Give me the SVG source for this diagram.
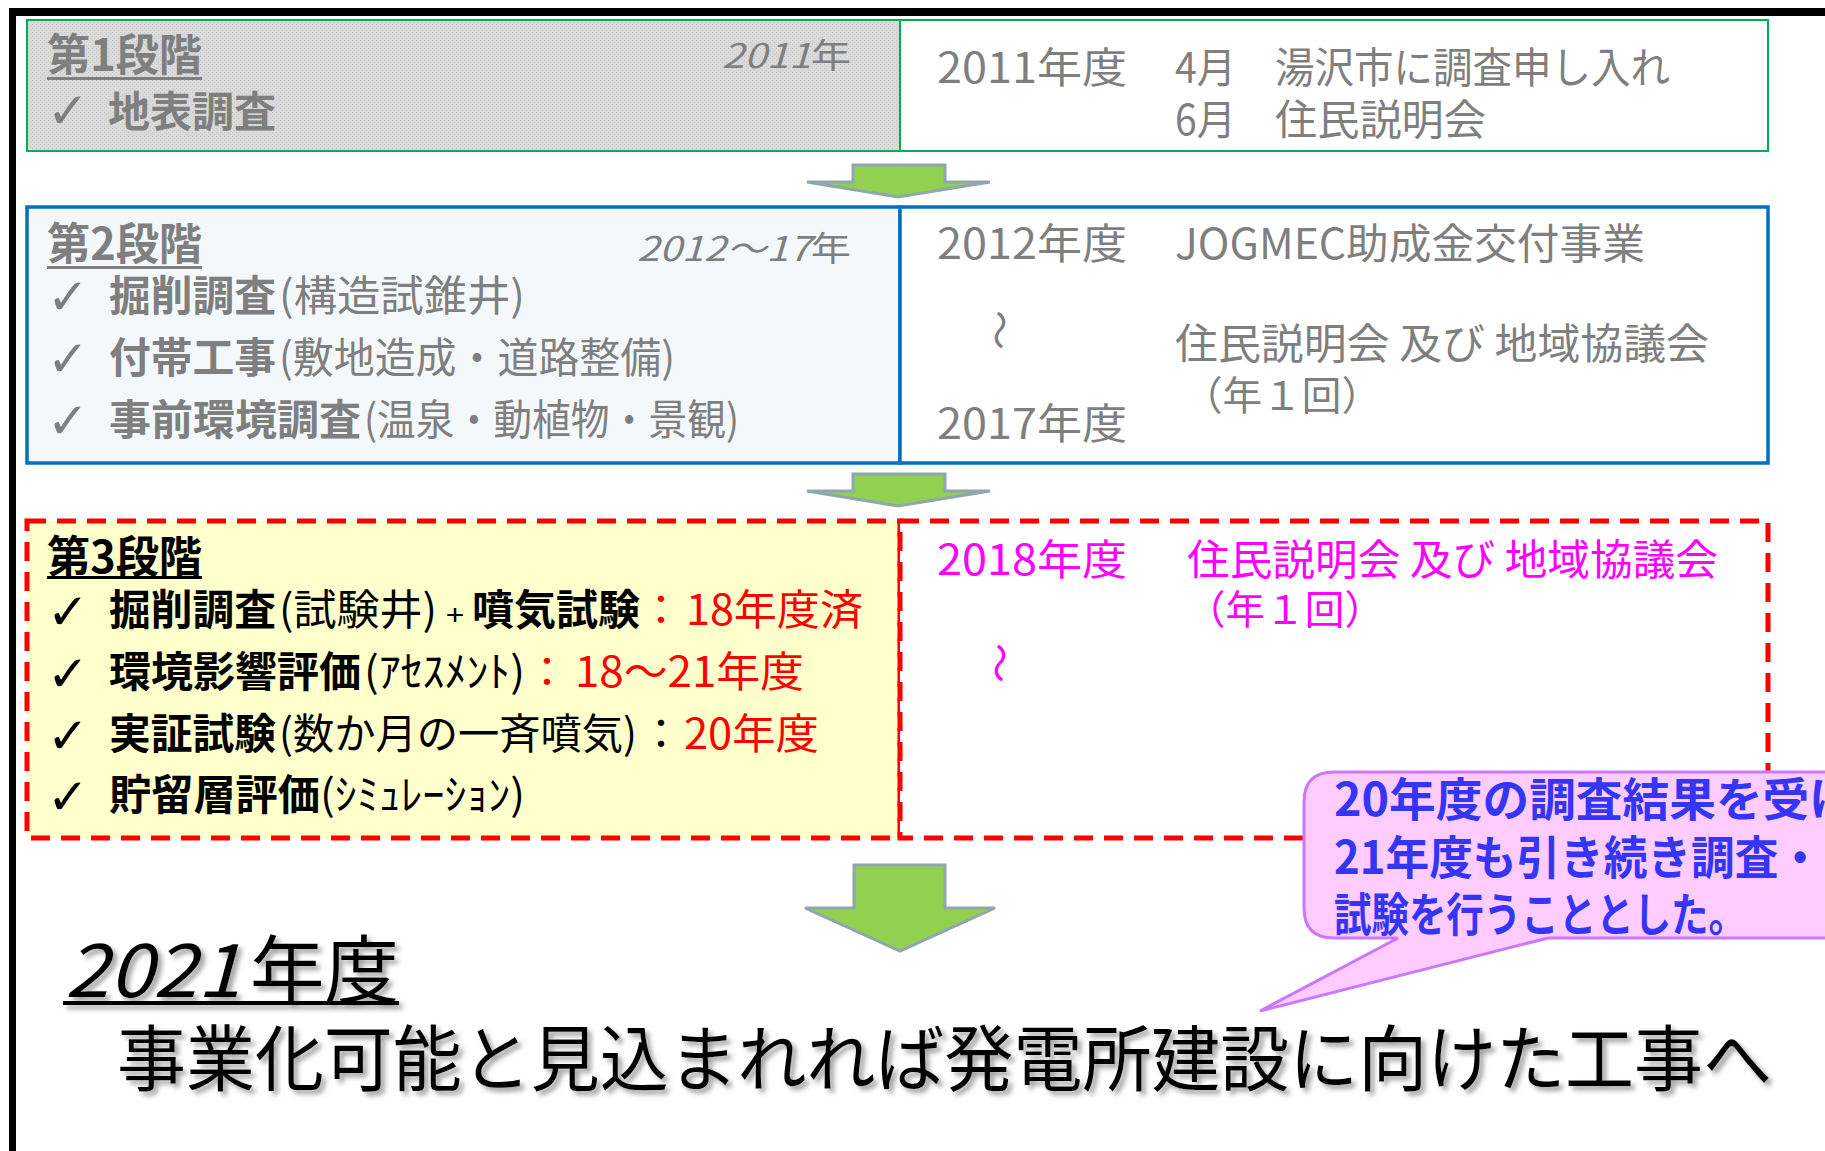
<svg xmlns="http://www.w3.org/2000/svg" width="1825" height="1151" viewBox="0 0 1825 1151">
<defs>
<style>
.t{font-family:"Noto Sans CJK JP","Noto Sans CJK SC",sans-serif;}
.ck{font-family:"DejaVu Sans",sans-serif;font-size:50px;}
.b{font-weight:700;}
.i{font-style:italic;}
.g{fill:#7F7F7F;}
.k{fill:#000000;}
.r{fill:#FF0000;}
.m{fill:#FF00FF;}
.bl{fill:#3535F5;}
.s40{font-size:40px;}
.s42{font-size:42px;}
.s44{font-size:44px;}
.arrow{fill:#92D050;stroke:#8FA6B0;stroke-width:3;stroke-linejoin:miter;}
.dash{stroke:#FF0000;stroke-width:5;stroke-dasharray:19 11;}
</style>
<pattern id="dots" width="4" height="4" patternUnits="userSpaceOnUse">
<rect width="4" height="4" fill="#DADADA"/>
<rect x="0" y="0" width="1" height="1" fill="#C6C6C6"/>
<rect x="2" y="2" width="1" height="1" fill="#C6C6C6"/>
</pattern>
<filter id="shadow" x="-5%" y="-20%" width="110%" height="140%">
<feDropShadow dx="4" dy="4" stdDeviation="2.5" flood-color="#808080" flood-opacity="0.75"/>
</filter>
</defs>
<rect width="1825" height="1151" fill="#FFFFFF"/>
<g id="frame">
<rect x="9" y="8" width="1816" height="8" fill="#000000"/>
<rect x="9" y="8" width="7" height="1143" fill="#000000"/>
</g>

<g id="stage1">
<rect x="27" y="20" width="873" height="131" fill="url(#dots)" stroke="#00B050" stroke-width="2"/>
<rect x="900" y="20" width="868" height="131" fill="#FFFFFF" stroke="#00B050" stroke-width="2"/>
<text class="t b g s44" x="47" y="71" textLength="155" lengthAdjust="spacingAndGlyphs">第1段階</text>
<rect x="47" y="77" width="155" height="3" fill="#7F7F7F"/>
<text class="t g" font-size="34" x="722" y="68" textLength="129" lengthAdjust="spacingAndGlyphs"><tspan class="i">2011</tspan>年</text>
<text class="ck g" x="47" y="128">✓</text>
<text class="t b g s42" x="108" y="127" textLength="168" lengthAdjust="spacingAndGlyphs">地表調査</text>
<text class="t g s42" x="937" y="83" textLength="190" lengthAdjust="spacingAndGlyphs">2011年度</text>
<text class="t g s42" x="1175" y="83" textLength="61" lengthAdjust="spacingAndGlyphs">4月</text>
<text class="t g s42" x="1275" y="83" textLength="395" lengthAdjust="spacingAndGlyphs">湯沢市に調査申し入れ</text>
<text class="t g s42" x="1175" y="135" textLength="61" lengthAdjust="spacingAndGlyphs">6月</text>
<text class="t g s42" x="1275" y="135" textLength="211" lengthAdjust="spacingAndGlyphs">住民説明会</text>
</g>

<g id="stage2">
<rect x="27" y="207" width="873" height="256" fill="#F5F8FA" stroke="#0070C0" stroke-width="3.5"/>
<rect x="900" y="207" width="868" height="256" fill="#FFFFFF" stroke="#0070C0" stroke-width="3.5"/>
<text class="t b g s44" x="47" y="260" textLength="155" lengthAdjust="spacingAndGlyphs">第2段階</text>
<rect x="47" y="266" width="155" height="3" fill="#7F7F7F"/>
<text class="t g" font-size="34" x="637" y="261" textLength="214" lengthAdjust="spacingAndGlyphs"><tspan class="i">2012～17</tspan>年</text>
<text class="ck g" x="47" y="314">✓</text>
<text class="t b g s42" x="109" y="311" textLength="167" lengthAdjust="spacingAndGlyphs">掘削調査</text>
<text class="t g s42" x="279" y="311" textLength="246" lengthAdjust="spacingAndGlyphs">(構造試錐井)</text>
<text class="ck g" x="47" y="376">✓</text>
<text class="t b g s42" x="109" y="373" textLength="167" lengthAdjust="spacingAndGlyphs">付帯工事</text>
<text class="t g s42" x="279" y="373" textLength="396" lengthAdjust="spacingAndGlyphs">(敷地造成・道路整備)</text>
<text class="ck g" x="47" y="438">✓</text>
<text class="t b g s42" x="109" y="435" textLength="252" lengthAdjust="spacingAndGlyphs">事前環境調査</text>
<text class="t g s42" x="364" y="435" textLength="375" lengthAdjust="spacingAndGlyphs">(温泉・動植物・景観)</text>
<text class="t g s42" x="937" y="259" textLength="190" lengthAdjust="spacingAndGlyphs">2012年度</text>
<text class="t g s42" x="1175" y="259" textLength="470" lengthAdjust="spacingAndGlyphs">JOGMEC助成金交付事業</text>
<text class="t g s40" x="0" y="0" text-anchor="middle" transform="translate(999 330) rotate(90) translate(0 14)">〜</text>
<text class="t g s42" x="1175" y="359" textLength="534" lengthAdjust="spacingAndGlyphs">住民説明会 及び 地域協議会</text>
<text class="t g s40" x="1183" y="410" textLength="198" lengthAdjust="spacingAndGlyphs">（年１回）</text>
<text class="t g s42" x="937" y="439" textLength="190" lengthAdjust="spacingAndGlyphs">2017年度</text>
</g>

<g id="stage3">
<rect x="27" y="521" width="873" height="317" fill="#FFFFCC" class="dash"/>
<rect x="900" y="521" width="868" height="317" fill="#FFFFFF" class="dash"/>
<text class="t b k s44" x="47" y="573" textLength="155" lengthAdjust="spacingAndGlyphs">第3段階</text>
<rect x="47" y="576" width="155" height="3" fill="#000000"/>
<text class="ck k" x="47" y="629">✓</text>
<text class="t b k s42" x="109" y="625" textLength="167" lengthAdjust="spacingAndGlyphs">掘削調査</text>
<text class="t k s42" x="279" y="625" textLength="158" lengthAdjust="spacingAndGlyphs">(試験井)</text>
<text class="t k" font-size="28" x="446" y="625" textLength="18" lengthAdjust="spacingAndGlyphs">+</text>
<text class="t b k s42" x="472" y="625" textLength="168" lengthAdjust="spacingAndGlyphs">噴気試験</text>
<text class="t r s42" x="661" y="625" text-anchor="middle">：</text>
<text class="t r s42" x="686" y="625" textLength="177" lengthAdjust="spacingAndGlyphs">18年度済</text>
<text class="ck k" x="47" y="691">✓</text>
<text class="t b k s42" x="109" y="687" textLength="252" lengthAdjust="spacingAndGlyphs">環境影響評価</text>
<text class="t k s42" x="364" y="687" textLength="161" lengthAdjust="spacingAndGlyphs">(ｱｾｽﾒﾝﾄ)</text>
<text class="t r s42" x="547" y="687" text-anchor="middle">：</text>
<text class="t r s42" x="575" y="687" textLength="229" lengthAdjust="spacingAndGlyphs">18～21年度</text>
<text class="ck k" x="47" y="753">✓</text>
<text class="t b k s42" x="109" y="749" textLength="167" lengthAdjust="spacingAndGlyphs">実証試験</text>
<text class="t k s42" x="279" y="749" textLength="358" lengthAdjust="spacingAndGlyphs">(数か月の一斉噴気)</text>
<text class="t k s42" x="661" y="749" text-anchor="middle">：</text>
<text class="t r s42" x="684" y="749" textLength="135" lengthAdjust="spacingAndGlyphs">20年度</text>
<text class="ck k" x="47" y="814">✓</text>
<text class="t b k s42" x="109" y="810" textLength="211" lengthAdjust="spacingAndGlyphs">貯留層評価</text>
<text class="t k s42" x="320" y="810" textLength="205" lengthAdjust="spacingAndGlyphs">(ｼﾐｭﾚｰｼｮﾝ)</text>
<text class="t m s42" x="937" y="575" textLength="190" lengthAdjust="spacingAndGlyphs">2018年度</text>
<text class="t m s42" x="1187" y="575" textLength="531" lengthAdjust="spacingAndGlyphs">住民説明会 及び 地域協議会</text>
<text class="t m s40" x="1186" y="624" textLength="198" lengthAdjust="spacingAndGlyphs">（年１回）</text>
<text class="t m s40" x="0" y="0" text-anchor="middle" transform="translate(999 663) rotate(90) translate(0 14)">〜</text>
</g>

<g id="connectors">
<polygon class="arrow" points="853,165 945,165 945,182 990,182 898,197 807,182 853,182"/>
<polygon class="arrow" points="853,474 945,474 945,491 990,491 898,506 807,491 853,491"/>
<polygon class="arrow" points="854,865 945,865 945,908 995,908 900,951 805,908 854,908"/>
</g>

<g id="callout">
<path d="M1334,772 H1880 V938 H1548 L1260,1011 L1398,938 H1334 Q1304,938 1304,908 V802 Q1304,772 1334,772 Z" fill="#FFCCFF" stroke="#CC77FF" stroke-width="3"/>
<text class="t b bl" font-size="46" x="1334" y="816" textLength="522" lengthAdjust="spacingAndGlyphs">20年度の調査結果を受け</text>
<text class="t b bl" font-size="46" x="1334" y="874" textLength="488" lengthAdjust="spacingAndGlyphs">21年度も引き続き調査・</text>
<text class="t b bl" font-size="46" x="1334" y="931" textLength="412" lengthAdjust="spacingAndGlyphs">試験を行うこととした。</text>
</g>

<g id="conclusion" filter="url(#shadow)">
<text class="t i k" font-size="74" x="65" y="997" textLength="176" lengthAdjust="spacingAndGlyphs">2021</text>
<text class="t k" font-size="74" x="250" y="997" textLength="149" lengthAdjust="spacingAndGlyphs">年度</text>
<rect x="63" y="1001" width="336" height="4" fill="#000000"/>
<text class="t k" font-size="72" x="117" y="1085" textLength="1655" lengthAdjust="spacingAndGlyphs">事業化可能と見込まれれば発電所建設に向けた工事へ</text>
</g>
</svg>
